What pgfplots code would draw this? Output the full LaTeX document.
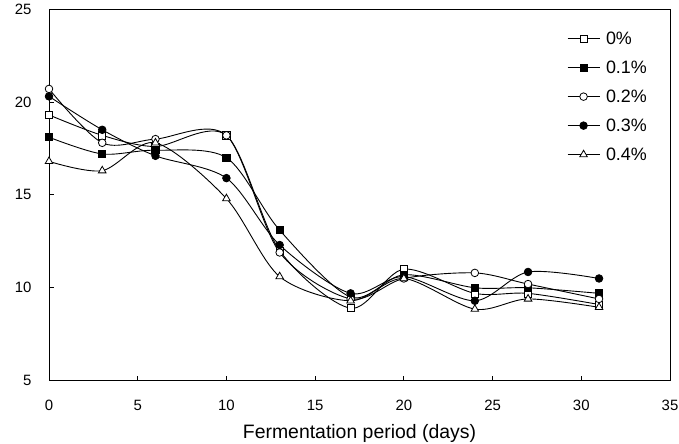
\documentclass[border=0pt]{standalone}
\usepackage{fontspec}
\setmainfont{Liberation Sans}
\usepackage{pgfplots}
\pgfplotsset{compat=1.18}
\begin{document}
\begin{tikzpicture}
\path[use as bounding box] (-49bp,-63.3bp) rectangle (630bp,380.7bp);
\begin{axis}[
  at={(0,0)}, anchor=south west,
  scale only axis, width=621bp, height=371.7bp,
  xmin=0, xmax=35, ymin=5, ymax=25,
  xtick={0,5,...,35}, ytick={5,10,...,25},
  tick pos=left,
  tick align=inside, major tick length=5bp,
  tick style={black, line width=0.8bp},
  axis line style={black, line width=0.9bp},
  ticklabel style={font=\fontsize{15}{18}\selectfont},
  /pgf/number format/assume math mode=true,
  yticklabel style={xshift=-14bp},
  xticklabel style={yshift=-16bp},
  xlabel={Fermentation period (days)},
  xlabel style={font=\fontsize{19.5}{22}\selectfont, at={(axis description cs:0.5,0)}, anchor=base, yshift=-58bp},
  every axis plot/.append style={black, line width=0.9bp, smooth},
  legend style={at={(rel axis cs:0.834,0.945)}, anchor=north west, draw=none, fill=none, inner sep=0pt, row sep=11bp, font=\fontsize{18}{20}\selectfont},
  legend cell align=left,
  legend image code/.code={\draw[mark repeat=2, mark phase=2] plot coordinates {(0bp,0bp) (16bp,0bp) (32bp,0bp)};},
]
\addplot[mark=square*, mark size=3.6bp, mark options={fill=white, line width=0.8bp}] coordinates {
(0,19.3) (3,18.2) (6,17.6) (10,18.2) (13,12.0) (17,8.9) (20,11.0) (24,9.7) (27,9.7) (31,9.1)};
\addlegendentry{\hspace{4bp}0\%}
\addplot[mark=square*, mark size=3.6bp, mark options={fill=black, line width=0.8bp}] coordinates {
(0,18.1) (3,17.2) (6,17.4) (10,17.0) (13,13.1) (17,9.5) (20,10.7) (24,10.0) (27,10.0) (31,9.7)};
\addlegendentry{\hspace{4bp}0.1\%}
\addplot[mark=*, mark size=3.8bp, mark options={fill=white, line width=0.8bp}] coordinates {
(0,20.7) (3,17.8) (6,18.0) (10,18.2) (13,11.9) (17,9.4) (20,10.5) (24,10.8) (27,10.2) (31,9.4)};
\addlegendentry{\hspace{4bp}0.2\%}
\addplot[mark=*, mark size=3.8bp, mark options={fill=black, line width=0.8bp}] coordinates {
(0,20.3) (3,18.5) (6,17.1) (10,15.9) (13,12.3) (17,9.7) (20,10.6) (24,9.3) (27,10.85) (31,10.5)};
\addlegendentry{\hspace{4bp}0.3\%}
\addplot[mark=triangle*, mark size=4.4bp, mark options={fill=white, line width=0.8bp}] coordinates {
(0,16.8) (3,16.3) (6,17.8) (10,14.8) (13,10.6) (17,9.3) (20,10.5) (24,8.85) (27,9.4) (31,8.95)};
\addlegendentry{\hspace{4bp}0.4\%}
\end{axis}
\end{tikzpicture}
\end{document}
